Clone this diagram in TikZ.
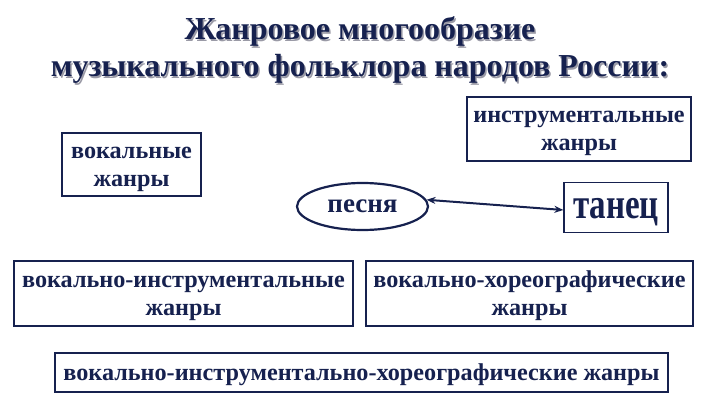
\documentclass[tikz,border=0pt]{standalone}
\usepackage{fontspec}
\usepackage{graphicx}
\setmainfont{Liberation Serif}
\usetikzlibrary{shapes.geometric,arrows.meta}
\definecolor{navy}{HTML}{16214F}
\definecolor{shade}{HTML}{9A9AA6}
\newcommand\twoline[3]{\raisebox{#1}[0pt][0pt]{\begin{tabular}[t]{@{}c@{}}#2\\#3\end{tabular}}}
\newcommand\oneline[2]{\raisebox{#1}[0pt][0pt]{#2}}
\tikzset{
  box/.style={draw=navy, line width=1.3pt, fill=white, text=navy,
    font=\fontsize{24.2}{28}\selectfont\bfseries, inner sep=0pt},
  ttl/.style={font=\fontsize{32}{36}\selectfont\bfseries, inner sep=0pt, anchor=base},
}
\begin{document}
\begin{tikzpicture}[x=1pt,y=1pt]
\useasboundingbox (0,0) rectangle (720,405);
% title with shadow
\node[ttl, text=shade] (t1s) at (361.5,363.5) {Жанровое многообразие};
\node[ttl, text=navy] (t1) at (360,365) {Жанровое многообразие};
\node[ttl, text=shade] (t2s) at (361.5,326.5) {музыкального фольклора народов России:};
\node[ttl, text=navy] (t2) at (360,328) {музыкального фольклора народов России:};
% boxes
\node[box, minimum width=224pt, minimum height=64pt] (instr) at (579,276) {\twoline{6.5pt}{инструментальные}{жанры}};
\node[box, minimum width=139pt, minimum height=63pt] (vocal) at (131.5,240.5) {\twoline{6pt}{вокальные}{жанры}};
\node[box, ellipse, minimum width=131pt, minimum height=47pt, line width=2.2pt, font=\fontsize{27}{30}\selectfont\bfseries] (pesnya) at (362.5,198.5) {\oneline{-6.2pt}{песня}};
\node[box, minimum width=104pt, minimum height=50pt, font=\fontsize{33}{36}\selectfont\bfseries] (tanec) at (616,197.5) {\oneline{-11pt}{\scalebox{1}[1.3]{танец}}};
\node[box, minimum width=339pt, minimum height=65pt] (vi) at (183.5,111.5) {\twoline{6.5pt}{вокально-инструментальные}{жанры}};
\node[box, minimum width=327pt, minimum height=65pt] (vh) at (529.5,111.5) {\twoline{6pt}{вокально-хореографические}{жанры}};
\node[box, minimum width=613pt, minimum height=39pt] (all) at (361.5,32.5) {\oneline{-8pt}{вокально-инструментально-хореографические жанры}};
% arrow
\draw[navy, line width=2pt, {Stealth[length=9pt,width=7pt]}-{Stealth[length=9pt,width=7pt]}] (pesnya.6) -- ([yshift=-2.5pt]tanec.west);
\end{tikzpicture}
\end{document}
